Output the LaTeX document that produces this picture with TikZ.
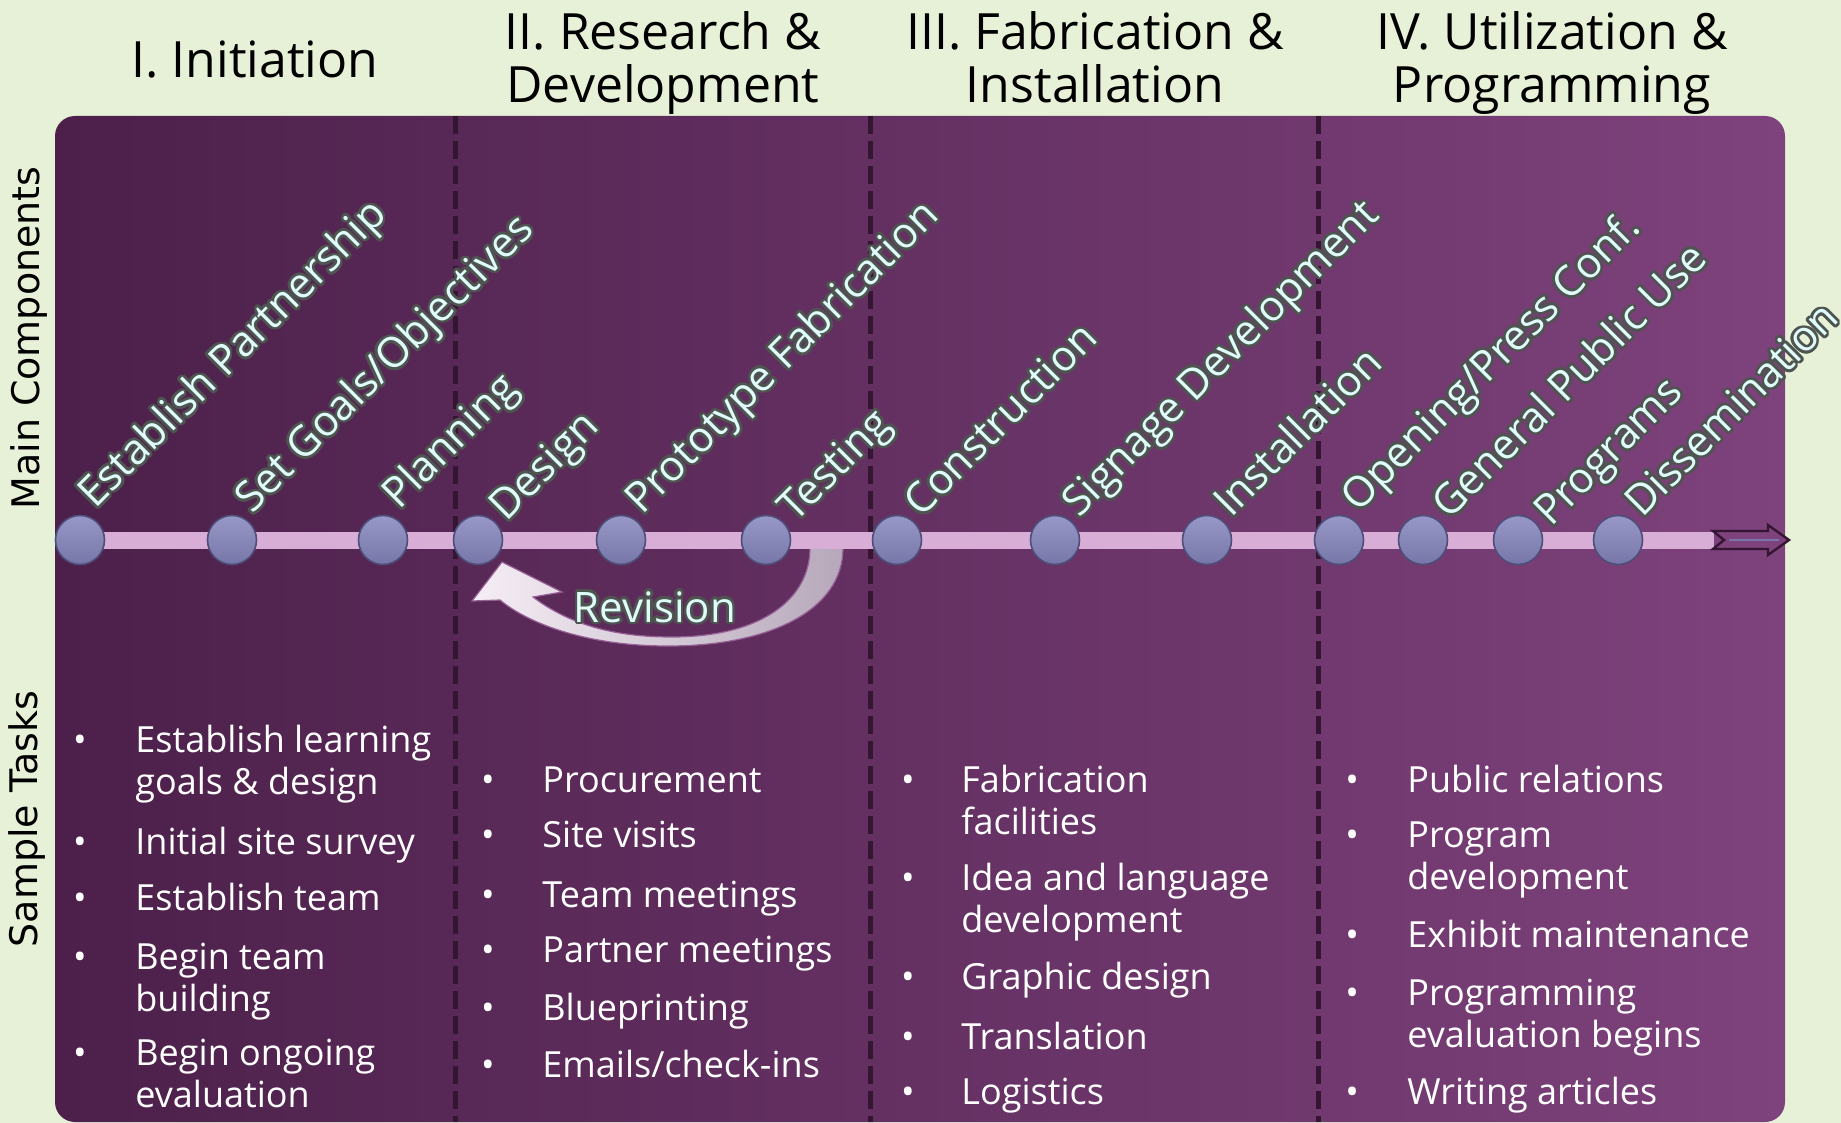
\documentclass[tikz,border=0pt]{standalone}
\usepackage{fontspec}
\setmainfont{Open Sans}
\newfontfamily\sidefont{DejaVu Sans}
\usepackage[copies]{contour}
\contourlength{1.3pt}
\usetikzlibrary{positioning}

\definecolor{bggreen}{RGB}{231,241,216}
\definecolor{panelL}{RGB}{76,32,74}
\definecolor{panelR}{RGB}{126,66,124}
\definecolor{sepline}{RGB}{52,22,50}
\definecolor{trackpink}{RGB}{216,174,214}
\definecolor{balltop}{RGB}{152,152,200}
\definecolor{ballbot}{RGB}{118,118,168}
\definecolor{ballrim}{RGB}{78,78,120}
\definecolor{lbltext}{RGB}{224,252,250}
\definecolor{lblline}{RGB}{78,84,80}
\definecolor{revL}{RGB}{246,238,246}
\definecolor{revR}{RGB}{182,168,186}
\definecolor{revrim}{RGB}{150,96,150}

\newcommand\hdfont{\fontsize{25}{26.5}\selectfont}
\newcommand\lblfont{\fontsize{21}{24}\selectfont}
\newcommand\taskfont{\fontsize{18}{21}\selectfont}

\tikzset{
  hd/.style={font=\hdfont, align=center, anchor=base, inner sep=0pt},
  sidelbl/.style={font=\sidefont\fontsize{19}{22}\selectfont, rotate=90, inner sep=0pt},
  divider/.style={sepline, line width=2.5pt, dash pattern=on 9pt off 3.5pt},
  timeline/.style={trackpink, line width=8.5pt},
  knot/.style={circle, minimum size=24.5pt, inner sep=0pt, draw=ballrim, line width=0.8pt,
    top color=balltop, bottom color=ballbot},
  lbl/.style={rotate=45, anchor=base west, inner sep=0pt, font=\lblfont, text=lbltext},
  revlbl/.style={anchor=base, inner sep=0pt, font=\lblfont, text=lbltext},
  bul/.style={anchor=base, inner sep=0pt, font=\taskfont, text=white},
  tasktxt/.style={anchor=base west, inner sep=0pt, align=left, font=\taskfont, text=white},
}

\begin{document}
\begin{tikzpicture}[x=0.5pt, y=-0.5pt]
  \fill[bggreen] (0,0) rectangle (1841,1123);
  \useasboundingbox (0,0) rectangle (1841,1123);

  % purple board
  \shade[left color=panelL, right color=panelR, rounded corners=10pt]
    (55,116) rectangle (1785,1122);

  % phase borders
  \foreach \x in {455,870,1318}
    \draw[divider] (\x,116) -- (\x,1122);

  % phase titles (base = last line)
  \node[hd] (h1) at (255,78) {I. Initiation};
  \node[hd] (h2) at (663,103) {II. Research \&\\Development};
  \node[hd] (h3) at (1095,103) {III. Fabrication \&\\Installation};
  \node[hd] (h4) at (1552,103) {IV. Utilization \&\\Programming};

  \node[sidelbl] (mc) at (29,338) {Main Components};
  \node[sidelbl] (st) at (27,819) {Sample Tasks};

  % revision loop back from testing to design
  \shadedraw[left color=revL, right color=revR, draw=revrim, line width=0.6pt]
    (843,548) .. controls (843,610) and (770,646) .. (668,646)
    .. controls (590,646) and (530,625) .. (500,600)
    -- (472,601) -- (502,562) -- (562,592) -- (533,597)
    .. controls (570,625) and (615,637) .. (672,637)
    .. controls (760,637) and (810,600) .. (810,548) -- cycle;
  \node[revlbl] (rev) at (655,622) {\contour{lblline}{Revision}};

  % timeline
  \coordinate (tstart) at (80,540);
  \coordinate (tend) at (1714,540);
  \draw[timeline] (tstart) -- (tend);
  \filldraw[fill=panelR, draw=sepline, line width=1.2pt]
    (1713,531) -- (1768,531) -- (1768,525) -- (1789,540) -- (1768,555)
    -- (1768,549) -- (1713,549) -- (1724,540) -- cycle;
  \draw[ballbot, line width=1.2pt] (1729,540) -- (1779,540);

  % stages: number / x / label shift / label
  \foreach \n/\x/\s/\txt in {1/80/2/{Establish Partnership}, 2/232/7/{Set Goals/Objectives},
      3/383/3/{Planning}, 4/478/15/{Design}, 5/621/8/{Prototype Fabrication},
      6/766/16/{Testing}, 7/897/11/{Construction}, 8/1055/11/{Signage Development},
      9/1207/11/{Installation}, 10/1339/6/{Opening/Press Conf.},
      11/1423/13/{General Public Use}, 12/1518/20/{Programs}, 13/1618/11/{Dissemination}} {
    \node[knot] (k\n) at (\x,540) {};
    \node[lbl] (c\n) at (\x+13+\s,508+\s) {\contour{lblline}{\txt}};
  }

  % sample tasks: y of first line / extra lines / text
  \foreach \y/\nl/\txt [count=\i] in {752/1/{Establish learning\\goals \& design},
      854/0/{Initial site survey}, 910/0/{Establish team}, 969/1/{Begin team\\building},
      1065/1/{Begin ongoing\\evaluation}} {
    \node[bul] (ini-b\i) at (80,\y) {\textbullet};
    \node[tasktxt] (ini\i) at (135,\y+42*\nl) {\txt};
  }
  \foreach \y/\nl/\txt [count=\i] in {792/0/{Procurement}, 847/0/{Site visits},
      907/0/{Team meetings}, 962/0/{Partner meetings}, 1020/0/{Blueprinting},
      1077/0/{Emails/check-ins}} {
    \node[bul] (rd-b\i) at (488,\y) {\textbullet};
    \node[tasktxt] (rd\i) at (542,\y+42*\nl) {\txt};
  }
  \foreach \y/\nl/\txt [count=\i] in {792/1/{Fabrication\\facilities},
      890/1/{Idea and language\\development}, 989/0/{Graphic design},
      1049/0/{Translation}, 1104/0/{Logistics}} {
    \node[bul] (fab-b\i) at (908,\y) {\textbullet};
    \node[tasktxt] (fab\i) at (961,\y+42*\nl) {\txt};
  }
  \foreach \y/\nl/\txt [count=\i] in {792/0/{Public relations}, 847/1/{Program\\development},
      947/0/{Exhibit maintenance}, 1005/1/{Programming\\evaluation begins},
      1104/0/{Writing articles}} {
    \node[bul] (use-b\i) at (1352,\y) {\textbullet};
    \node[tasktxt] (use\i) at (1407,\y+42*\nl) {\txt};
  }
\end{tikzpicture}
\end{document}
